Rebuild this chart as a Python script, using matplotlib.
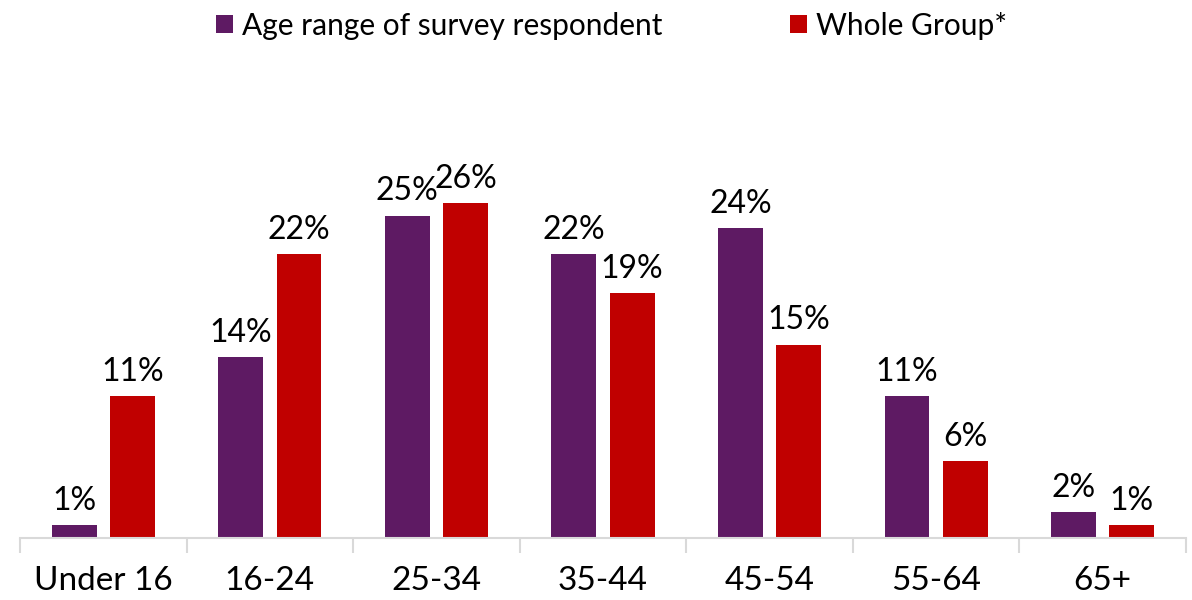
import matplotlib.pyplot as plt
import numpy as np

plt.rcParams['font.family'] = ['Lato', 'DejaVu Sans']

categories = ["Under 16", "16-24", "25-34", "35-44", "45-54", "55-64", "65+"]
respondent = [1, 14, 25, 22, 24, 11, 2]
whole_group = [11, 22, 26, 19, 15, 6, 1]
series_names = ["Age range of survey respondent", "Whole Group*"]

purple = "#5E1A63"
red = "#C00000"

fig = plt.figure(figsize=(11.92, 6.0), dpi=100)
ax = fig.add_axes([20/1192, 62/600, 1166/1192, 387/600])

x = np.arange(len(categories))
w = 0.27
b1 = ax.bar(x - 0.175, respondent, w, color=purple, label=series_names[0])
b2 = ax.bar(x + 0.175, whole_group, w, color=red, label=series_names[1])

for bars, vals in [(b1, respondent), (b2, whole_group)]:
    for rect, v in zip(bars, vals):
        ax.text(rect.get_x() + rect.get_width() / 2, v + 0.7, f"{v}%",
                ha="center", va="bottom", fontsize=23)

ax.set_xlim(-0.5, len(categories) - 0.5)
ax.set_ylim(0, 30)
ax.set_yticks([])
for s in ["top", "right", "left"]:
    ax.spines[s].set_visible(False)
ax.spines["bottom"].set_color("#D9D9D9")
ax.spines["bottom"].set_linewidth(1.5)

ax.set_xticks(x)
ax.set_xticklabels(categories, fontsize=24)
ax.tick_params(axis="x", length=0, pad=20)
ax.set_xticks(np.arange(len(categories) + 1) - 0.5, minor=True)
ax.tick_params(axis="x", which="minor", length=11, width=1.5, color="#D9D9D9")

fig.legend(loc="upper center", bbox_to_anchor=(0.513, 1.025), ncol=2, frameon=False,
           fontsize=21.5, handlelength=0.55, handleheight=0.55, handletextpad=0.3,
           columnspacing=4.3)

fig.savefig("out.png", dpi=100)
